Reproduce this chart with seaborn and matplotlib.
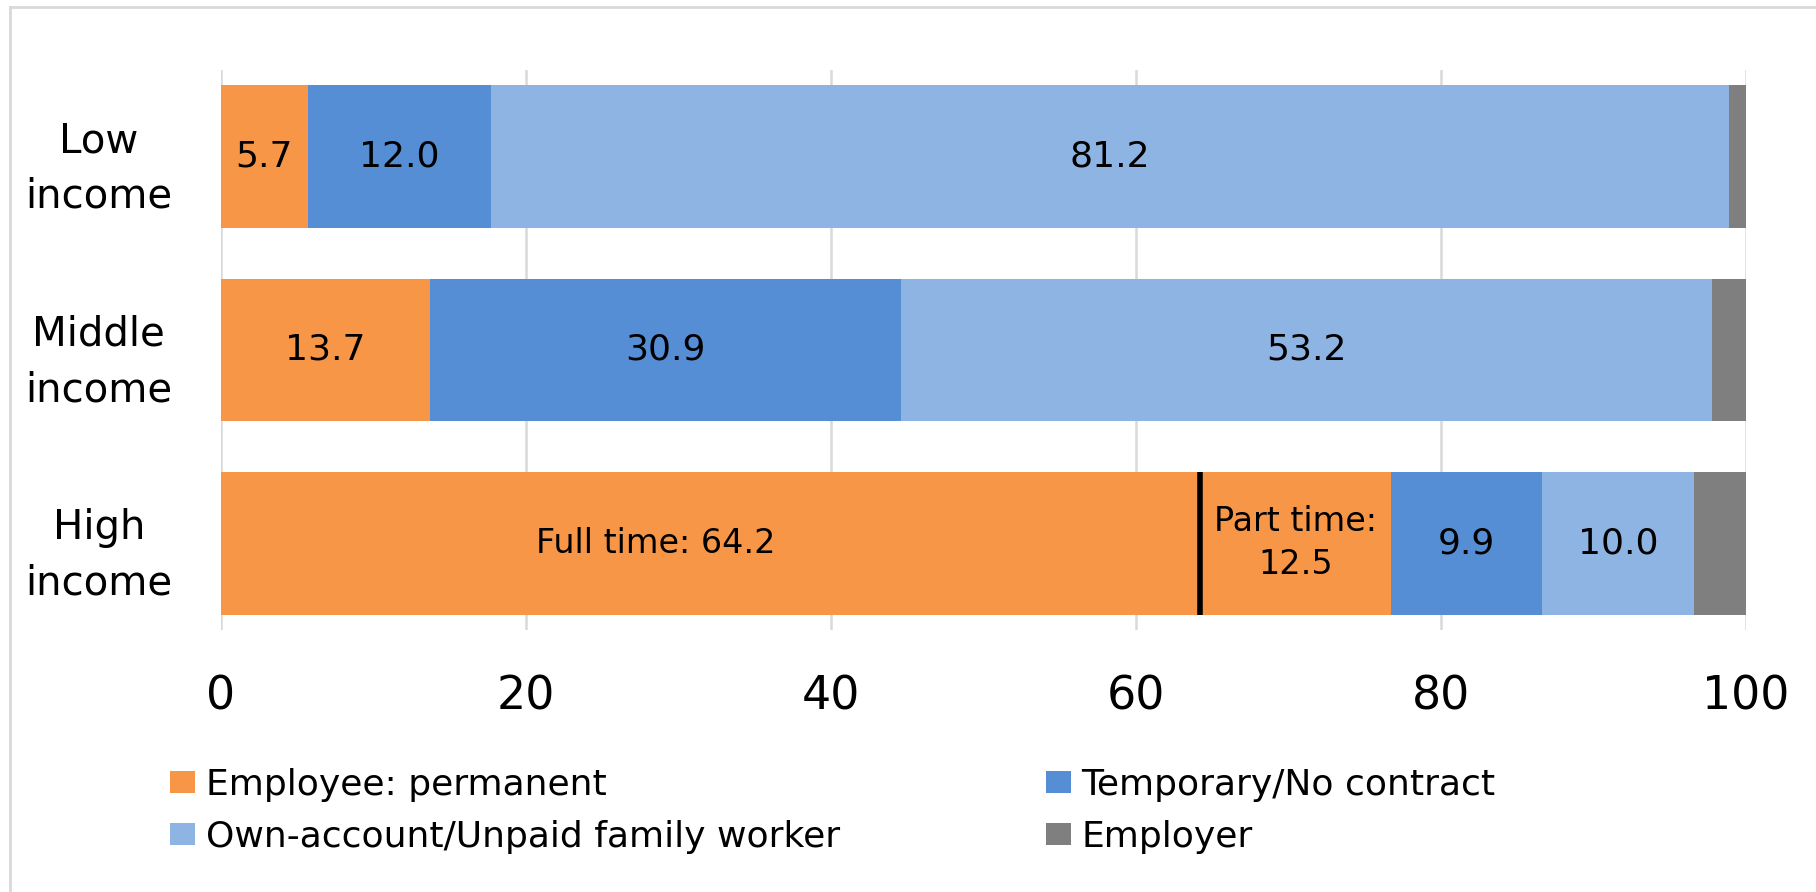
import matplotlib
matplotlib.use("Agg")
import matplotlib.pyplot as plt
from matplotlib.patches import Patch
from matplotlib.lines import Line2D
import numpy as np
import seaborn as sns

# ----------------------------
# Data (percent of workers)
# ----------------------------
income_groups = ["Low\nincome", "Middle\nincome", "High\nincome"]
full_time = 64.2
part_time = 12.5
employee_permanent = [5.7, 13.7, full_time + part_time]
temporary = [12.0, 30.9, 9.9]
own_account = [81.2, 53.2, 10.0]
employer = [1.1, 2.2, 3.4]

series_names = [
    "Employee: permanent",
    "Temporary/No contract",
    "Own-account/Unpaid family worker",
    "Employer",
]
series_colors = ["#F79646", "#558ED5", "#8EB4E3", "#7F7F7F"]
x_ticks = [0, 20, 40, 60, 80, 100]

# ----------------------------
# Figure
# ----------------------------
W, H = 1816, 892
fig = plt.figure(figsize=(W / 100, H / 100), dpi=100)
ax = fig.add_axes([221 / W, 1 - 630 / H, (1746 - 221) / W, (630 - 70) / H])

# stacked bars: draw cumulative totals from the back to the front
series = [employee_permanent, temporary, own_account, employer]
cumulative = np.cumsum(np.array(series), axis=0)
for i in range(len(series) - 1, -1, -1):
    sns.barplot(
        x=cumulative[i],
        y=income_groups,
        orient="h",
        color=series_colors[i],
        saturation=1,
        width=0.74,
        linewidth=0,
        ax=ax,
    )

# value labels in the middle of each segment
starts = np.vstack([np.zeros(3), cumulative[:-1]])
for i in range(3):  # no labels on the employer segment
    for j, val in enumerate(series[i]):
        if i == 0 and j == 2:
            continue
        ax.text(starts[i][j] + val / 2, j, f"{val:.1f}",
                ha="center", va="center", fontsize=26, color="black")

# full time / part time split on the high income bar
ax.plot([full_time, full_time], [2 - 0.37, 2 + 0.37], color="black", lw=4,
        solid_capstyle="butt")
ax.text(28.5, 2, f"Full time: {full_time:.1f}", ha="center", va="center",
        fontsize=24)
ax.text(full_time + part_time / 2, 2, f"Part time:\n{part_time:.1f}",
        ha="center", va="center", fontsize=24, linespacing=1.4)

# axes styling
ax.set_xlim(0, 100)
ax.set_ylim(2.45, -0.45)
ax.set_xticks(x_ticks)
ax.set_xticklabels([str(t) for t in x_ticks], fontsize=33)
ax.set_xlabel("")
ax.set_ylabel("")
ax.grid(axis="x", color="#D9D9D9", linewidth=1.8)
ax.grid(axis="y", visible=False)
ax.set_axisbelow(True)
for s in ax.spines.values():
    s.set_visible(False)
ax.tick_params(axis="x", length=0, pad=32)
ax.tick_params(axis="y", length=0, pad=88)
for lab in ax.get_yticklabels():
    lab.set_fontsize(29)
    lab.set_horizontalalignment("center")
    lab.set_multialignment("center")
    lab.set_linespacing(1.5)

# legend, filled row by row
order = [0, 2, 1, 3]
handles = [Patch(facecolor=series_colors[k], edgecolor="none") for k in order]
fig.legend(
    handles,
    [series_names[k] for k in order],
    ncol=2,
    loc="upper left",
    bbox_to_anchor=(170 / W, 1 - 768 / H),
    frameon=False,
    fontsize=26,
    borderpad=0,
    borderaxespad=0,
    handlelength=0.69,
    handleheight=0.55,
    handletextpad=0.3,
    labelspacing=0.5,
    columnspacing=5.7,
)

# light frame around the chart area
fig.add_artist(Line2D([10 / W, 10 / W], [0, 1 - 7 / H], transform=fig.transFigure,
                      color="#D9D9D9", lw=2))
fig.add_artist(Line2D([10 / W, 1], [1 - 7 / H, 1 - 7 / H], transform=fig.transFigure,
                      color="#D9D9D9", lw=2))

fig.savefig("out.png", dpi=100, facecolor="white")
